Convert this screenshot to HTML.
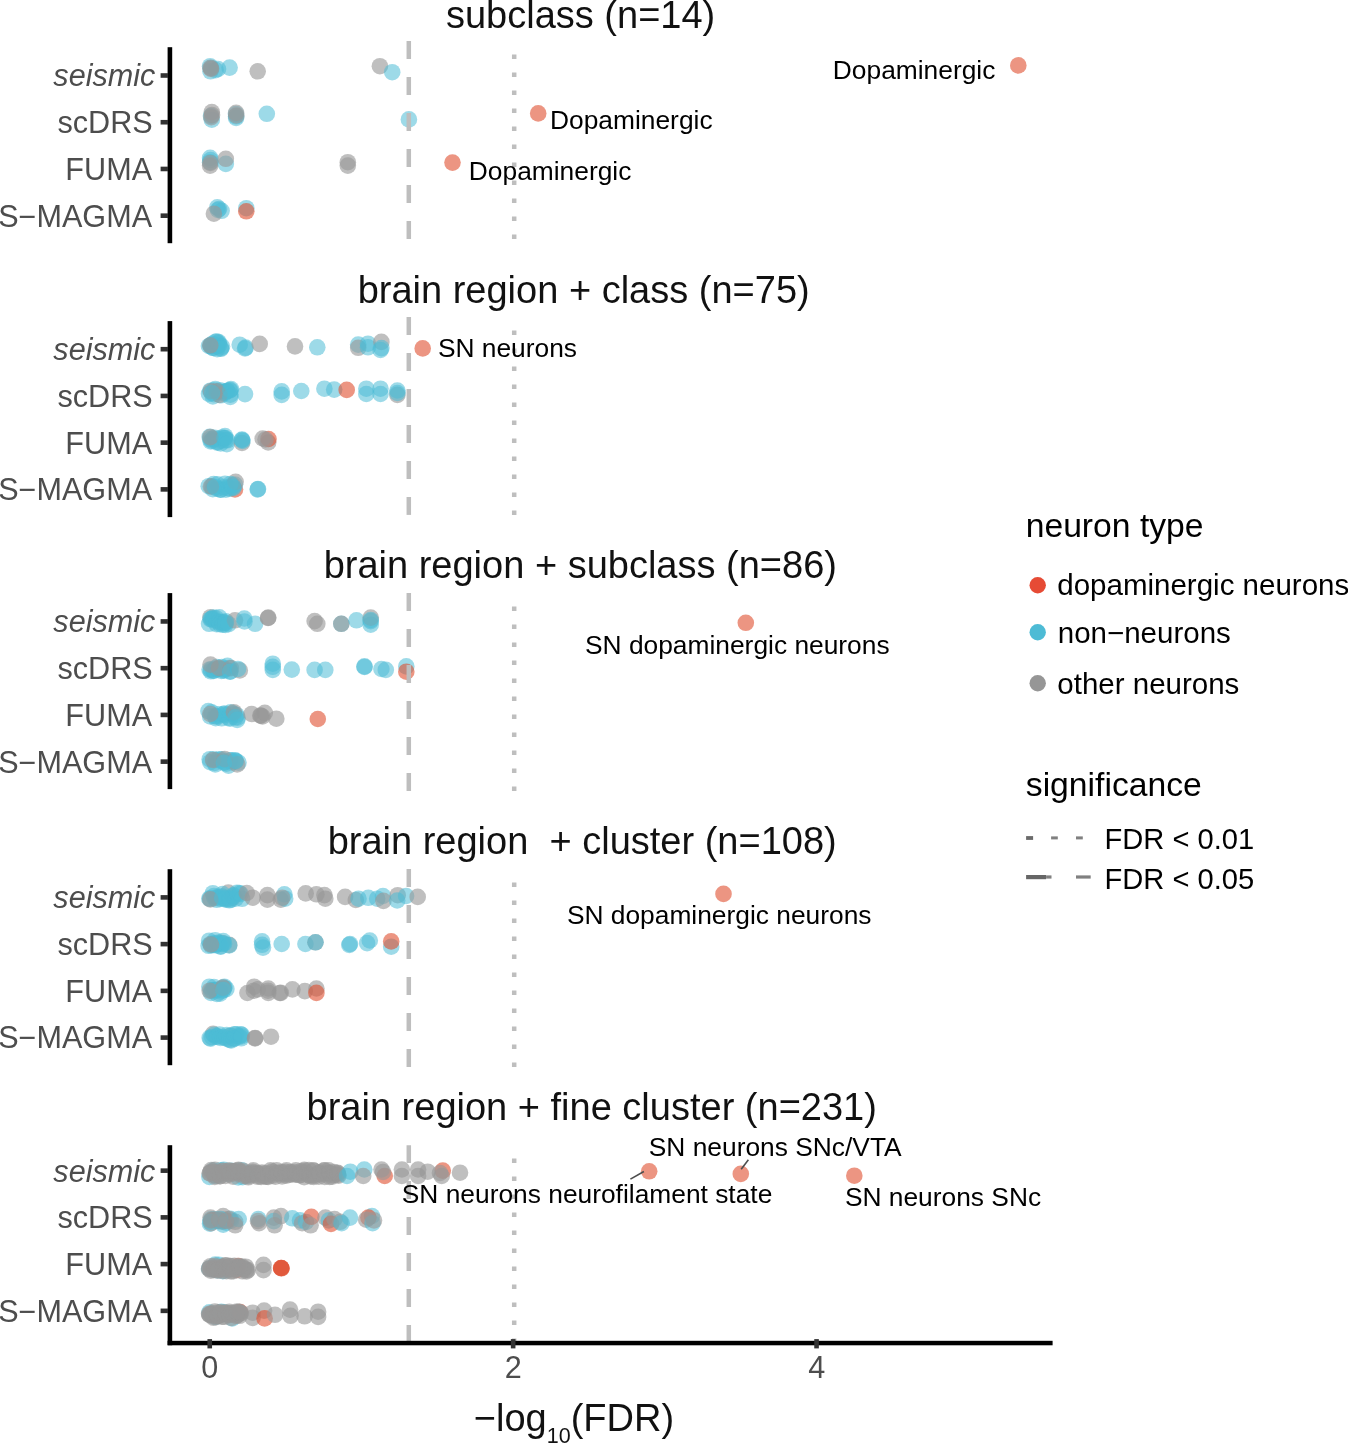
<!DOCTYPE html>
<html><head><meta charset="utf-8"><title>plot</title>
<style>html,body{margin:0;padding:0;background:#fff;}body{width:1348px;height:1444px;overflow:hidden;}svg{display:block;will-change:transform;}</style>
</head><body>
<svg width="1348" height="1444" viewBox="0 0 1348 1444"><rect x="0" y="0" width="1348" height="1444" fill="#ffffff"/><text x="445.94" y="27.80" style="font-family:'Liberation Sans',sans-serif;font-size:38px" fill="#111" xml:space="preserve">subclass (n=14)</text><text x="357.65" y="302.80" style="font-family:'Liberation Sans',sans-serif;font-size:38px" fill="#111" xml:space="preserve">brain region + class (n=75)</text><text x="323.65" y="577.80" style="font-family:'Liberation Sans',sans-serif;font-size:38px" fill="#111" xml:space="preserve">brain region + subclass (n=86)</text><text x="327.65" y="853.90" style="font-family:'Liberation Sans',sans-serif;font-size:38px" fill="#111" xml:space="preserve">brain region  + cluster (n=108)</text><text x="306.55" y="1119.75" style="font-family:'Liberation Sans',sans-serif;font-size:38px" fill="#111" xml:space="preserve">brain region + fine cluster (n=231)</text><rect x="167.6" y="47.20" width="4.6" height="196.00" fill="#000"/><rect x="160.6" y="73.20" width="7.4" height="4.6" fill="#333333"/><text x="53.34" y="86.40" style="font-family:'Liberation Sans',sans-serif;font-size:30.6px;font-style:italic" fill="#4D4D4D" xml:space="preserve">seismic</text><rect x="160.6" y="119.93" width="7.4" height="4.6" fill="#333333"/><text x="57.50" y="133.13" style="font-family:'Liberation Sans',sans-serif;font-size:30.6px" fill="#4D4D4D" xml:space="preserve">scDRS</text><rect x="160.6" y="166.66" width="7.4" height="4.6" fill="#333333"/><text x="65.37" y="179.86" style="font-family:'Liberation Sans',sans-serif;font-size:30.6px" fill="#4D4D4D" xml:space="preserve">FUMA</text><rect x="160.6" y="213.39" width="7.4" height="4.6" fill="#333333"/><text x="-1.82" y="226.59" style="font-family:'Liberation Sans',sans-serif;font-size:30.6px" fill="#4D4D4D" xml:space="preserve">S−MAGMA</text><rect x="167.6" y="321.10" width="4.6" height="196.00" fill="#000"/><rect x="160.6" y="346.90" width="7.4" height="4.6" fill="#333333"/><text x="53.34" y="360.10" style="font-family:'Liberation Sans',sans-serif;font-size:30.6px;font-style:italic" fill="#4D4D4D" xml:space="preserve">seismic</text><rect x="160.6" y="393.63" width="7.4" height="4.6" fill="#333333"/><text x="57.50" y="406.83" style="font-family:'Liberation Sans',sans-serif;font-size:30.6px" fill="#4D4D4D" xml:space="preserve">scDRS</text><rect x="160.6" y="440.36" width="7.4" height="4.6" fill="#333333"/><text x="65.37" y="453.56" style="font-family:'Liberation Sans',sans-serif;font-size:30.6px" fill="#4D4D4D" xml:space="preserve">FUMA</text><rect x="160.6" y="487.09" width="7.4" height="4.6" fill="#333333"/><text x="-1.82" y="500.29" style="font-family:'Liberation Sans',sans-serif;font-size:30.6px" fill="#4D4D4D" xml:space="preserve">S−MAGMA</text><rect x="167.6" y="593.10" width="4.6" height="196.00" fill="#000"/><rect x="160.6" y="619.15" width="7.4" height="4.6" fill="#333333"/><text x="53.34" y="632.35" style="font-family:'Liberation Sans',sans-serif;font-size:30.6px;font-style:italic" fill="#4D4D4D" xml:space="preserve">seismic</text><rect x="160.6" y="665.88" width="7.4" height="4.6" fill="#333333"/><text x="57.50" y="679.08" style="font-family:'Liberation Sans',sans-serif;font-size:30.6px" fill="#4D4D4D" xml:space="preserve">scDRS</text><rect x="160.6" y="712.61" width="7.4" height="4.6" fill="#333333"/><text x="65.37" y="725.81" style="font-family:'Liberation Sans',sans-serif;font-size:30.6px" fill="#4D4D4D" xml:space="preserve">FUMA</text><rect x="160.6" y="759.34" width="7.4" height="4.6" fill="#333333"/><text x="-1.82" y="772.54" style="font-family:'Liberation Sans',sans-serif;font-size:30.6px" fill="#4D4D4D" xml:space="preserve">S−MAGMA</text><rect x="167.6" y="869.20" width="4.6" height="196.00" fill="#000"/><rect x="160.6" y="895.10" width="7.4" height="4.6" fill="#333333"/><text x="53.34" y="908.30" style="font-family:'Liberation Sans',sans-serif;font-size:30.6px;font-style:italic" fill="#4D4D4D" xml:space="preserve">seismic</text><rect x="160.6" y="941.83" width="7.4" height="4.6" fill="#333333"/><text x="57.50" y="955.03" style="font-family:'Liberation Sans',sans-serif;font-size:30.6px" fill="#4D4D4D" xml:space="preserve">scDRS</text><rect x="160.6" y="988.56" width="7.4" height="4.6" fill="#333333"/><text x="65.37" y="1001.76" style="font-family:'Liberation Sans',sans-serif;font-size:30.6px" fill="#4D4D4D" xml:space="preserve">FUMA</text><rect x="160.6" y="1035.29" width="7.4" height="4.6" fill="#333333"/><text x="-1.82" y="1048.49" style="font-family:'Liberation Sans',sans-serif;font-size:30.6px" fill="#4D4D4D" xml:space="preserve">S−MAGMA</text><rect x="167.6" y="1145.20" width="4.6" height="200.00" fill="#000"/><rect x="160.6" y="1168.35" width="7.4" height="4.6" fill="#333333"/><text x="53.34" y="1181.55" style="font-family:'Liberation Sans',sans-serif;font-size:30.6px;font-style:italic" fill="#4D4D4D" xml:space="preserve">seismic</text><rect x="160.6" y="1215.08" width="7.4" height="4.6" fill="#333333"/><text x="57.50" y="1228.28" style="font-family:'Liberation Sans',sans-serif;font-size:30.6px" fill="#4D4D4D" xml:space="preserve">scDRS</text><rect x="160.6" y="1261.81" width="7.4" height="4.6" fill="#333333"/><text x="65.37" y="1275.01" style="font-family:'Liberation Sans',sans-serif;font-size:30.6px" fill="#4D4D4D" xml:space="preserve">FUMA</text><rect x="160.6" y="1308.54" width="7.4" height="4.6" fill="#333333"/><text x="-1.82" y="1321.74" style="font-family:'Liberation Sans',sans-serif;font-size:30.6px" fill="#4D4D4D" xml:space="preserve">S−MAGMA</text><circle cx="210.1" cy="66.2" r="8.3" fill="#4DBBD5" fill-opacity="0.55"/><circle cx="210.5" cy="71.3" r="8.3" fill="#4DBBD5" fill-opacity="0.55"/><circle cx="215.6" cy="70.1" r="8.3" fill="#4DBBD5" fill-opacity="0.55"/><circle cx="218.0" cy="69.0" r="8.3" fill="#4DBBD5" fill-opacity="0.55"/><circle cx="211.0" cy="68.0" r="8.3" fill="#4DBBD5" fill-opacity="0.55"/><circle cx="210.5" cy="67.9" r="8.3" fill="#989898" fill-opacity="0.62"/><circle cx="211.0" cy="69.0" r="8.3" fill="#989898" fill-opacity="0.62"/><circle cx="229.6" cy="67.6" r="8.3" fill="#4DBBD5" fill-opacity="0.55"/><circle cx="257.7" cy="71.3" r="8.3" fill="#989898" fill-opacity="0.62"/><circle cx="379.9" cy="66.2" r="8.3" fill="#989898" fill-opacity="0.62"/><circle cx="392.2" cy="72.2" r="8.3" fill="#4DBBD5" fill-opacity="0.55"/><circle cx="1018.3" cy="65.4" r="8.3" fill="#E04E2E" fill-opacity="0.6"/><circle cx="211.8" cy="119.7" r="8.3" fill="#4DBBD5" fill-opacity="0.55"/><circle cx="211.0" cy="116.0" r="8.3" fill="#4DBBD5" fill-opacity="0.55"/><circle cx="211.8" cy="112.1" r="8.3" fill="#989898" fill-opacity="0.62"/><circle cx="211.3" cy="117.2" r="8.3" fill="#989898" fill-opacity="0.62"/><circle cx="212.0" cy="115.0" r="8.3" fill="#989898" fill-opacity="0.62"/><circle cx="236.1" cy="116.3" r="8.3" fill="#4DBBD5" fill-opacity="0.55"/><circle cx="236.1" cy="118.0" r="8.3" fill="#4DBBD5" fill-opacity="0.55"/><circle cx="236.0" cy="114.0" r="8.3" fill="#4DBBD5" fill-opacity="0.55"/><circle cx="236.1" cy="112.9" r="8.3" fill="#989898" fill-opacity="0.62"/><circle cx="236.3" cy="115.5" r="8.3" fill="#989898" fill-opacity="0.62"/><circle cx="266.8" cy="113.8" r="8.3" fill="#4DBBD5" fill-opacity="0.55"/><circle cx="408.9" cy="119.4" r="8.3" fill="#4DBBD5" fill-opacity="0.55"/><circle cx="538.2" cy="113.4" r="8.3" fill="#E04E2E" fill-opacity="0.6"/><circle cx="210.1" cy="157.9" r="8.3" fill="#4DBBD5" fill-opacity="0.55"/><circle cx="210.1" cy="162.2" r="8.3" fill="#4DBBD5" fill-opacity="0.55"/><circle cx="210.5" cy="160.0" r="8.3" fill="#4DBBD5" fill-opacity="0.55"/><circle cx="210.1" cy="165.6" r="8.3" fill="#989898" fill-opacity="0.62"/><circle cx="210.3" cy="163.0" r="8.3" fill="#989898" fill-opacity="0.62"/><circle cx="225.8" cy="163.9" r="8.3" fill="#4DBBD5" fill-opacity="0.55"/><circle cx="225.8" cy="158.8" r="8.3" fill="#989898" fill-opacity="0.62"/><circle cx="347.8" cy="162.2" r="8.3" fill="#989898" fill-opacity="0.62"/><circle cx="347.8" cy="165.6" r="8.3" fill="#989898" fill-opacity="0.62"/><circle cx="452.5" cy="162.6" r="8.3" fill="#E04E2E" fill-opacity="0.6"/><circle cx="217.3" cy="207.4" r="8.3" fill="#4DBBD5" fill-opacity="0.55"/><circle cx="221.6" cy="210.8" r="8.3" fill="#4DBBD5" fill-opacity="0.55"/><circle cx="219.0" cy="209.0" r="8.3" fill="#4DBBD5" fill-opacity="0.55"/><circle cx="218.0" cy="210.0" r="8.3" fill="#4DBBD5" fill-opacity="0.55"/><circle cx="213.9" cy="213.7" r="8.3" fill="#989898" fill-opacity="0.62"/><circle cx="246.3" cy="208.2" r="8.3" fill="#4DBBD5" fill-opacity="0.55"/><circle cx="246.3" cy="211.3" r="8.3" fill="#E04E2E" fill-opacity="0.6"/><circle cx="208.9" cy="346.0" r="8.3" fill="#4DBBD5" fill-opacity="0.55"/><circle cx="210.9" cy="345.2" r="8.3" fill="#4DBBD5" fill-opacity="0.55"/><circle cx="210.8" cy="346.2" r="8.3" fill="#4DBBD5" fill-opacity="0.55"/><circle cx="210.8" cy="345.6" r="8.3" fill="#4DBBD5" fill-opacity="0.55"/><circle cx="212.8" cy="347.8" r="8.3" fill="#4DBBD5" fill-opacity="0.55"/><circle cx="212.4" cy="343.9" r="8.3" fill="#4DBBD5" fill-opacity="0.55"/><circle cx="213.2" cy="348.0" r="8.3" fill="#4DBBD5" fill-opacity="0.55"/><circle cx="215.5" cy="341.8" r="8.3" fill="#4DBBD5" fill-opacity="0.55"/><circle cx="217.1" cy="349.2" r="8.3" fill="#4DBBD5" fill-opacity="0.55"/><circle cx="217.2" cy="346.4" r="8.3" fill="#4DBBD5" fill-opacity="0.55"/><circle cx="216.8" cy="341.6" r="8.3" fill="#4DBBD5" fill-opacity="0.55"/><circle cx="218.6" cy="342.0" r="8.3" fill="#4DBBD5" fill-opacity="0.55"/><circle cx="218.7" cy="343.4" r="8.3" fill="#4DBBD5" fill-opacity="0.55"/><circle cx="219.1" cy="345.2" r="8.3" fill="#4DBBD5" fill-opacity="0.55"/><circle cx="221.0" cy="348.2" r="8.3" fill="#4DBBD5" fill-opacity="0.55"/><circle cx="222.0" cy="346.6" r="8.3" fill="#4DBBD5" fill-opacity="0.55"/><circle cx="220.9" cy="348.8" r="8.3" fill="#4DBBD5" fill-opacity="0.55"/><circle cx="210.3" cy="345.3" r="8.3" fill="#989898" fill-opacity="0.62"/><circle cx="239.7" cy="344.7" r="8.3" fill="#4DBBD5" fill-opacity="0.55"/><circle cx="245.6" cy="347.6" r="8.3" fill="#4DBBD5" fill-opacity="0.55"/><circle cx="245.0" cy="348.5" r="8.3" fill="#4DBBD5" fill-opacity="0.55"/><circle cx="259.7" cy="343.9" r="8.3" fill="#989898" fill-opacity="0.62"/><circle cx="295.0" cy="346.4" r="8.3" fill="#989898" fill-opacity="0.62"/><circle cx="317.3" cy="347.3" r="8.3" fill="#4DBBD5" fill-opacity="0.55"/><circle cx="358.2" cy="344.6" r="8.3" fill="#4DBBD5" fill-opacity="0.55"/><circle cx="358.2" cy="347.8" r="8.3" fill="#989898" fill-opacity="0.62"/><circle cx="368.0" cy="343.7" r="8.3" fill="#4DBBD5" fill-opacity="0.55"/><circle cx="368.0" cy="347.3" r="8.3" fill="#4DBBD5" fill-opacity="0.55"/><circle cx="381.4" cy="341.9" r="8.3" fill="#989898" fill-opacity="0.62"/><circle cx="381.4" cy="348.1" r="8.3" fill="#4DBBD5" fill-opacity="0.55"/><circle cx="380.5" cy="350.0" r="8.3" fill="#4DBBD5" fill-opacity="0.55"/><circle cx="422.7" cy="348.4" r="8.3" fill="#E04E2E" fill-opacity="0.6"/><circle cx="209.0" cy="393.8" r="8.3" fill="#4DBBD5" fill-opacity="0.55"/><circle cx="210.3" cy="390.7" r="8.3" fill="#4DBBD5" fill-opacity="0.55"/><circle cx="212.9" cy="396.5" r="8.3" fill="#4DBBD5" fill-opacity="0.55"/><circle cx="213.9" cy="394.2" r="8.3" fill="#4DBBD5" fill-opacity="0.55"/><circle cx="214.0" cy="390.3" r="8.3" fill="#4DBBD5" fill-opacity="0.55"/><circle cx="215.3" cy="389.1" r="8.3" fill="#4DBBD5" fill-opacity="0.55"/><circle cx="217.8" cy="391.7" r="8.3" fill="#4DBBD5" fill-opacity="0.55"/><circle cx="219.3" cy="391.6" r="8.3" fill="#4DBBD5" fill-opacity="0.55"/><circle cx="220.9" cy="395.3" r="8.3" fill="#4DBBD5" fill-opacity="0.55"/><circle cx="220.0" cy="390.2" r="8.3" fill="#4DBBD5" fill-opacity="0.55"/><circle cx="223.5" cy="392.3" r="8.3" fill="#4DBBD5" fill-opacity="0.55"/><circle cx="225.0" cy="391.7" r="8.3" fill="#4DBBD5" fill-opacity="0.55"/><circle cx="224.2" cy="393.5" r="8.3" fill="#4DBBD5" fill-opacity="0.55"/><circle cx="227.3" cy="390.7" r="8.3" fill="#4DBBD5" fill-opacity="0.55"/><circle cx="227.0" cy="391.2" r="8.3" fill="#4DBBD5" fill-opacity="0.55"/><circle cx="230.4" cy="394.6" r="8.3" fill="#4DBBD5" fill-opacity="0.55"/><circle cx="229.7" cy="390.5" r="8.3" fill="#4DBBD5" fill-opacity="0.55"/><circle cx="231.0" cy="389.0" r="8.3" fill="#4DBBD5" fill-opacity="0.55"/><circle cx="216.7" cy="391.4" r="8.3" fill="#989898" fill-opacity="0.62"/><circle cx="219.4" cy="394.9" r="8.3" fill="#989898" fill-opacity="0.62"/><circle cx="210.9" cy="391.2" r="8.3" fill="#989898" fill-opacity="0.62"/><circle cx="212.0" cy="393.0" r="8.3" fill="#4DBBD5" fill-opacity="0.55"/><circle cx="230.3" cy="390.0" r="8.3" fill="#4DBBD5" fill-opacity="0.55"/><circle cx="230.3" cy="397.0" r="8.3" fill="#4DBBD5" fill-opacity="0.55"/><circle cx="245.0" cy="394.1" r="8.3" fill="#4DBBD5" fill-opacity="0.55"/><circle cx="281.7" cy="391.4" r="8.3" fill="#4DBBD5" fill-opacity="0.55"/><circle cx="281.7" cy="394.9" r="8.3" fill="#4DBBD5" fill-opacity="0.55"/><circle cx="301.3" cy="391.0" r="8.3" fill="#4DBBD5" fill-opacity="0.55"/><circle cx="324.4" cy="388.7" r="8.3" fill="#4DBBD5" fill-opacity="0.55"/><circle cx="334.2" cy="389.6" r="8.3" fill="#4DBBD5" fill-opacity="0.55"/><circle cx="346.7" cy="389.9" r="8.3" fill="#E04E2E" fill-opacity="0.6"/><circle cx="366.3" cy="388.7" r="8.3" fill="#4DBBD5" fill-opacity="0.55"/><circle cx="366.3" cy="394.0" r="8.3" fill="#4DBBD5" fill-opacity="0.55"/><circle cx="380.5" cy="388.7" r="8.3" fill="#4DBBD5" fill-opacity="0.55"/><circle cx="380.5" cy="394.0" r="8.3" fill="#4DBBD5" fill-opacity="0.55"/><circle cx="397.4" cy="394.9" r="8.3" fill="#989898" fill-opacity="0.62"/><circle cx="397.4" cy="390.5" r="8.3" fill="#4DBBD5" fill-opacity="0.55"/><circle cx="397.4" cy="393.0" r="8.3" fill="#4DBBD5" fill-opacity="0.55"/><circle cx="209.7" cy="436.9" r="8.3" fill="#4DBBD5" fill-opacity="0.55"/><circle cx="210.4" cy="439.1" r="8.3" fill="#4DBBD5" fill-opacity="0.55"/><circle cx="210.8" cy="441.4" r="8.3" fill="#4DBBD5" fill-opacity="0.55"/><circle cx="211.9" cy="440.6" r="8.3" fill="#4DBBD5" fill-opacity="0.55"/><circle cx="213.1" cy="438.9" r="8.3" fill="#4DBBD5" fill-opacity="0.55"/><circle cx="214.6" cy="437.7" r="8.3" fill="#4DBBD5" fill-opacity="0.55"/><circle cx="217.7" cy="441.9" r="8.3" fill="#4DBBD5" fill-opacity="0.55"/><circle cx="217.4" cy="442.6" r="8.3" fill="#4DBBD5" fill-opacity="0.55"/><circle cx="218.4" cy="438.7" r="8.3" fill="#4DBBD5" fill-opacity="0.55"/><circle cx="221.3" cy="440.6" r="8.3" fill="#4DBBD5" fill-opacity="0.55"/><circle cx="220.7" cy="443.4" r="8.3" fill="#4DBBD5" fill-opacity="0.55"/><circle cx="222.2" cy="437.6" r="8.3" fill="#4DBBD5" fill-opacity="0.55"/><circle cx="224.9" cy="438.1" r="8.3" fill="#4DBBD5" fill-opacity="0.55"/><circle cx="225.0" cy="436.1" r="8.3" fill="#4DBBD5" fill-opacity="0.55"/><circle cx="225.7" cy="440.2" r="8.3" fill="#4DBBD5" fill-opacity="0.55"/><circle cx="227.4" cy="440.3" r="8.3" fill="#4DBBD5" fill-opacity="0.55"/><circle cx="210.3" cy="437.1" r="8.3" fill="#989898" fill-opacity="0.62"/><circle cx="224.4" cy="438.2" r="8.3" fill="#4DBBD5" fill-opacity="0.55"/><circle cx="226.8" cy="444.1" r="8.3" fill="#4DBBD5" fill-opacity="0.55"/><circle cx="242.0" cy="443.0" r="8.3" fill="#989898" fill-opacity="0.62"/><circle cx="242.0" cy="440.0" r="8.3" fill="#4DBBD5" fill-opacity="0.55"/><circle cx="242.0" cy="439.5" r="8.3" fill="#4DBBD5" fill-opacity="0.55"/><circle cx="242.5" cy="441.0" r="8.3" fill="#4DBBD5" fill-opacity="0.55"/><circle cx="268.2" cy="442.5" r="8.3" fill="#989898" fill-opacity="0.62"/><circle cx="268.5" cy="439.0" r="8.3" fill="#E04E2E" fill-opacity="0.6"/><circle cx="262.7" cy="438.5" r="8.3" fill="#989898" fill-opacity="0.62"/><circle cx="265.5" cy="439.5" r="8.3" fill="#989898" fill-opacity="0.62"/><circle cx="235.0" cy="489.5" r="8.3" fill="#E04E2E" fill-opacity="0.6"/><circle cx="208.7" cy="486.2" r="8.3" fill="#4DBBD5" fill-opacity="0.55"/><circle cx="211.9" cy="486.4" r="8.3" fill="#4DBBD5" fill-opacity="0.55"/><circle cx="212.8" cy="489.1" r="8.3" fill="#4DBBD5" fill-opacity="0.55"/><circle cx="213.6" cy="484.1" r="8.3" fill="#4DBBD5" fill-opacity="0.55"/><circle cx="217.2" cy="488.7" r="8.3" fill="#4DBBD5" fill-opacity="0.55"/><circle cx="217.4" cy="484.3" r="8.3" fill="#4DBBD5" fill-opacity="0.55"/><circle cx="220.4" cy="489.6" r="8.3" fill="#4DBBD5" fill-opacity="0.55"/><circle cx="220.9" cy="489.7" r="8.3" fill="#4DBBD5" fill-opacity="0.55"/><circle cx="224.3" cy="487.2" r="8.3" fill="#4DBBD5" fill-opacity="0.55"/><circle cx="225.0" cy="483.7" r="8.3" fill="#4DBBD5" fill-opacity="0.55"/><circle cx="225.9" cy="489.7" r="8.3" fill="#4DBBD5" fill-opacity="0.55"/><circle cx="228.2" cy="487.9" r="8.3" fill="#4DBBD5" fill-opacity="0.55"/><circle cx="230.0" cy="488.8" r="8.3" fill="#4DBBD5" fill-opacity="0.55"/><circle cx="232.6" cy="485.1" r="8.3" fill="#4DBBD5" fill-opacity="0.55"/><circle cx="233.4" cy="488.0" r="8.3" fill="#4DBBD5" fill-opacity="0.55"/><circle cx="235.0" cy="484.6" r="8.3" fill="#4DBBD5" fill-opacity="0.55"/><circle cx="235.6" cy="481.8" r="8.3" fill="#989898" fill-opacity="0.62"/><circle cx="230.3" cy="484.1" r="8.3" fill="#4DBBD5" fill-opacity="0.55"/><circle cx="233.0" cy="487.0" r="8.3" fill="#4DBBD5" fill-opacity="0.55"/><circle cx="210.9" cy="486.5" r="8.3" fill="#989898" fill-opacity="0.62"/><circle cx="215.0" cy="487.0" r="8.3" fill="#4DBBD5" fill-opacity="0.55"/><circle cx="257.7" cy="489.4" r="8.3" fill="#4DBBD5" fill-opacity="0.55"/><circle cx="258.0" cy="489.0" r="8.3" fill="#4DBBD5" fill-opacity="0.55"/><circle cx="210.5" cy="617.2" r="8.3" fill="#989898" fill-opacity="0.62"/><circle cx="209.1" cy="623.8" r="8.3" fill="#4DBBD5" fill-opacity="0.55"/><circle cx="210.4" cy="619.2" r="8.3" fill="#4DBBD5" fill-opacity="0.55"/><circle cx="212.2" cy="618.6" r="8.3" fill="#4DBBD5" fill-opacity="0.55"/><circle cx="211.2" cy="619.2" r="8.3" fill="#4DBBD5" fill-opacity="0.55"/><circle cx="213.3" cy="617.5" r="8.3" fill="#4DBBD5" fill-opacity="0.55"/><circle cx="213.8" cy="620.0" r="8.3" fill="#4DBBD5" fill-opacity="0.55"/><circle cx="215.9" cy="618.1" r="8.3" fill="#4DBBD5" fill-opacity="0.55"/><circle cx="216.5" cy="624.1" r="8.3" fill="#4DBBD5" fill-opacity="0.55"/><circle cx="219.1" cy="622.3" r="8.3" fill="#4DBBD5" fill-opacity="0.55"/><circle cx="219.5" cy="621.7" r="8.3" fill="#4DBBD5" fill-opacity="0.55"/><circle cx="219.3" cy="617.3" r="8.3" fill="#4DBBD5" fill-opacity="0.55"/><circle cx="220.1" cy="624.3" r="8.3" fill="#4DBBD5" fill-opacity="0.55"/><circle cx="222.9" cy="624.7" r="8.3" fill="#4DBBD5" fill-opacity="0.55"/><circle cx="222.4" cy="622.1" r="8.3" fill="#4DBBD5" fill-opacity="0.55"/><circle cx="224.6" cy="622.8" r="8.3" fill="#4DBBD5" fill-opacity="0.55"/><circle cx="225.3" cy="625.0" r="8.3" fill="#4DBBD5" fill-opacity="0.55"/><circle cx="225.9" cy="621.4" r="8.3" fill="#4DBBD5" fill-opacity="0.55"/><circle cx="228.6" cy="624.2" r="8.3" fill="#4DBBD5" fill-opacity="0.55"/><circle cx="235.0" cy="620.3" r="8.3" fill="#989898" fill-opacity="0.62"/><circle cx="225.6" cy="622.9" r="8.3" fill="#4DBBD5" fill-opacity="0.55"/><circle cx="244.5" cy="621.5" r="8.3" fill="#4DBBD5" fill-opacity="0.55"/><circle cx="244.3" cy="618.5" r="8.3" fill="#4DBBD5" fill-opacity="0.55"/><circle cx="255.1" cy="623.8" r="8.3" fill="#4DBBD5" fill-opacity="0.55"/><circle cx="268.0" cy="618.0" r="8.3" fill="#989898" fill-opacity="0.62"/><circle cx="268.3" cy="617.6" r="8.3" fill="#989898" fill-opacity="0.62"/><circle cx="314.6" cy="621.1" r="8.3" fill="#989898" fill-opacity="0.62"/><circle cx="317.3" cy="623.8" r="8.3" fill="#989898" fill-opacity="0.62"/><circle cx="341.3" cy="623.8" r="8.3" fill="#4DBBD5" fill-opacity="0.55"/><circle cx="341.3" cy="623.8" r="8.3" fill="#989898" fill-opacity="0.62"/><circle cx="356.5" cy="620.3" r="8.3" fill="#4DBBD5" fill-opacity="0.55"/><circle cx="370.7" cy="621.1" r="8.3" fill="#4DBBD5" fill-opacity="0.55"/><circle cx="370.7" cy="624.7" r="8.3" fill="#4DBBD5" fill-opacity="0.55"/><circle cx="370.7" cy="617.6" r="8.3" fill="#989898" fill-opacity="0.62"/><circle cx="370.7" cy="620.0" r="8.3" fill="#4DBBD5" fill-opacity="0.55"/><circle cx="745.8" cy="622.8" r="8.3" fill="#E04E2E" fill-opacity="0.6"/><circle cx="209.6" cy="669.6" r="8.3" fill="#4DBBD5" fill-opacity="0.55"/><circle cx="210.9" cy="671.3" r="8.3" fill="#4DBBD5" fill-opacity="0.55"/><circle cx="211.1" cy="669.5" r="8.3" fill="#4DBBD5" fill-opacity="0.55"/><circle cx="213.7" cy="671.0" r="8.3" fill="#4DBBD5" fill-opacity="0.55"/><circle cx="213.7" cy="670.3" r="8.3" fill="#4DBBD5" fill-opacity="0.55"/><circle cx="216.0" cy="668.6" r="8.3" fill="#4DBBD5" fill-opacity="0.55"/><circle cx="216.7" cy="667.1" r="8.3" fill="#4DBBD5" fill-opacity="0.55"/><circle cx="217.8" cy="668.9" r="8.3" fill="#4DBBD5" fill-opacity="0.55"/><circle cx="217.9" cy="669.1" r="8.3" fill="#4DBBD5" fill-opacity="0.55"/><circle cx="221.3" cy="671.0" r="8.3" fill="#4DBBD5" fill-opacity="0.55"/><circle cx="221.9" cy="667.1" r="8.3" fill="#4DBBD5" fill-opacity="0.55"/><circle cx="223.2" cy="668.6" r="8.3" fill="#4DBBD5" fill-opacity="0.55"/><circle cx="223.7" cy="670.7" r="8.3" fill="#4DBBD5" fill-opacity="0.55"/><circle cx="224.1" cy="670.0" r="8.3" fill="#4DBBD5" fill-opacity="0.55"/><circle cx="225.2" cy="668.8" r="8.3" fill="#4DBBD5" fill-opacity="0.55"/><circle cx="227.5" cy="665.8" r="8.3" fill="#4DBBD5" fill-opacity="0.55"/><circle cx="229.2" cy="668.0" r="8.3" fill="#4DBBD5" fill-opacity="0.55"/><circle cx="230.3" cy="671.4" r="8.3" fill="#4DBBD5" fill-opacity="0.55"/><circle cx="210.5" cy="664.6" r="8.3" fill="#989898" fill-opacity="0.62"/><circle cx="219.0" cy="668.0" r="8.3" fill="#989898" fill-opacity="0.62"/><circle cx="230.9" cy="668.1" r="8.3" fill="#989898" fill-opacity="0.62"/><circle cx="230.1" cy="671.7" r="8.3" fill="#4DBBD5" fill-opacity="0.55"/><circle cx="239.8" cy="670.4" r="8.3" fill="#989898" fill-opacity="0.62"/><circle cx="238.0" cy="669.0" r="8.3" fill="#4DBBD5" fill-opacity="0.55"/><circle cx="272.8" cy="663.7" r="8.3" fill="#4DBBD5" fill-opacity="0.55"/><circle cx="272.8" cy="669.9" r="8.3" fill="#4DBBD5" fill-opacity="0.55"/><circle cx="272.7" cy="666.8" r="8.3" fill="#4DBBD5" fill-opacity="0.55"/><circle cx="291.8" cy="669.6" r="8.3" fill="#4DBBD5" fill-opacity="0.55"/><circle cx="314.6" cy="669.9" r="8.3" fill="#4DBBD5" fill-opacity="0.55"/><circle cx="325.3" cy="669.9" r="8.3" fill="#4DBBD5" fill-opacity="0.55"/><circle cx="364.5" cy="666.4" r="8.3" fill="#4DBBD5" fill-opacity="0.55"/><circle cx="364.5" cy="667.0" r="8.3" fill="#4DBBD5" fill-opacity="0.55"/><circle cx="381.4" cy="669.0" r="8.3" fill="#4DBBD5" fill-opacity="0.55"/><circle cx="385.8" cy="669.9" r="8.3" fill="#4DBBD5" fill-opacity="0.55"/><circle cx="406.3" cy="666.4" r="8.3" fill="#4DBBD5" fill-opacity="0.55"/><circle cx="406.3" cy="671.7" r="8.3" fill="#E04E2E" fill-opacity="0.6"/><circle cx="208.4" cy="711.1" r="8.3" fill="#4DBBD5" fill-opacity="0.55"/><circle cx="210.2" cy="716.4" r="8.3" fill="#4DBBD5" fill-opacity="0.55"/><circle cx="211.7" cy="712.4" r="8.3" fill="#4DBBD5" fill-opacity="0.55"/><circle cx="215.1" cy="716.3" r="8.3" fill="#4DBBD5" fill-opacity="0.55"/><circle cx="215.7" cy="718.1" r="8.3" fill="#4DBBD5" fill-opacity="0.55"/><circle cx="217.1" cy="716.3" r="8.3" fill="#4DBBD5" fill-opacity="0.55"/><circle cx="218.5" cy="714.4" r="8.3" fill="#4DBBD5" fill-opacity="0.55"/><circle cx="221.7" cy="718.3" r="8.3" fill="#4DBBD5" fill-opacity="0.55"/><circle cx="223.6" cy="714.1" r="8.3" fill="#4DBBD5" fill-opacity="0.55"/><circle cx="224.6" cy="713.5" r="8.3" fill="#4DBBD5" fill-opacity="0.55"/><circle cx="225.2" cy="715.0" r="8.3" fill="#4DBBD5" fill-opacity="0.55"/><circle cx="228.6" cy="717.8" r="8.3" fill="#4DBBD5" fill-opacity="0.55"/><circle cx="230.0" cy="718.6" r="8.3" fill="#4DBBD5" fill-opacity="0.55"/><circle cx="230.6" cy="712.4" r="8.3" fill="#4DBBD5" fill-opacity="0.55"/><circle cx="232.8" cy="713.2" r="8.3" fill="#4DBBD5" fill-opacity="0.55"/><circle cx="233.9" cy="714.3" r="8.3" fill="#4DBBD5" fill-opacity="0.55"/><circle cx="236.6" cy="715.0" r="8.3" fill="#4DBBD5" fill-opacity="0.55"/><circle cx="237.6" cy="717.7" r="8.3" fill="#4DBBD5" fill-opacity="0.55"/><circle cx="210.3" cy="714.0" r="8.3" fill="#989898" fill-opacity="0.62"/><circle cx="233.9" cy="712.2" r="8.3" fill="#989898" fill-opacity="0.62"/><circle cx="235.4" cy="717.3" r="8.3" fill="#4DBBD5" fill-opacity="0.55"/><circle cx="237.2" cy="719.9" r="8.3" fill="#4DBBD5" fill-opacity="0.55"/><circle cx="251.5" cy="714.0" r="8.3" fill="#989898" fill-opacity="0.62"/><circle cx="261.0" cy="715.7" r="8.3" fill="#989898" fill-opacity="0.62"/><circle cx="260.3" cy="715.5" r="8.3" fill="#989898" fill-opacity="0.62"/><circle cx="262.5" cy="716.5" r="8.3" fill="#989898" fill-opacity="0.62"/><circle cx="264.8" cy="712.8" r="8.3" fill="#989898" fill-opacity="0.62"/><circle cx="276.3" cy="718.7" r="8.3" fill="#989898" fill-opacity="0.62"/><circle cx="317.8" cy="719.0" r="8.3" fill="#E04E2E" fill-opacity="0.6"/><circle cx="210.2" cy="762.2" r="8.3" fill="#4DBBD5" fill-opacity="0.55"/><circle cx="209.7" cy="759.2" r="8.3" fill="#4DBBD5" fill-opacity="0.55"/><circle cx="213.3" cy="759.3" r="8.3" fill="#4DBBD5" fill-opacity="0.55"/><circle cx="214.6" cy="763.0" r="8.3" fill="#4DBBD5" fill-opacity="0.55"/><circle cx="215.4" cy="764.5" r="8.3" fill="#4DBBD5" fill-opacity="0.55"/><circle cx="216.4" cy="760.0" r="8.3" fill="#4DBBD5" fill-opacity="0.55"/><circle cx="219.1" cy="759.2" r="8.3" fill="#4DBBD5" fill-opacity="0.55"/><circle cx="221.7" cy="760.7" r="8.3" fill="#4DBBD5" fill-opacity="0.55"/><circle cx="221.8" cy="759.3" r="8.3" fill="#4DBBD5" fill-opacity="0.55"/><circle cx="224.7" cy="762.1" r="8.3" fill="#4DBBD5" fill-opacity="0.55"/><circle cx="226.4" cy="763.6" r="8.3" fill="#4DBBD5" fill-opacity="0.55"/><circle cx="228.5" cy="765.7" r="8.3" fill="#4DBBD5" fill-opacity="0.55"/><circle cx="229.9" cy="760.4" r="8.3" fill="#4DBBD5" fill-opacity="0.55"/><circle cx="231.1" cy="760.3" r="8.3" fill="#4DBBD5" fill-opacity="0.55"/><circle cx="231.7" cy="762.3" r="8.3" fill="#4DBBD5" fill-opacity="0.55"/><circle cx="235.1" cy="760.3" r="8.3" fill="#4DBBD5" fill-opacity="0.55"/><circle cx="235.7" cy="761.4" r="8.3" fill="#4DBBD5" fill-opacity="0.55"/><circle cx="238.5" cy="762.6" r="8.3" fill="#4DBBD5" fill-opacity="0.55"/><circle cx="213.1" cy="760.0" r="8.3" fill="#989898" fill-opacity="0.62"/><circle cx="224.7" cy="759.1" r="8.3" fill="#989898" fill-opacity="0.62"/><circle cx="237.2" cy="764.4" r="8.3" fill="#989898" fill-opacity="0.62"/><circle cx="223.8" cy="762.7" r="8.3" fill="#4DBBD5" fill-opacity="0.55"/><circle cx="235.4" cy="760.9" r="8.3" fill="#4DBBD5" fill-opacity="0.55"/><circle cx="228.3" cy="892.5" r="8.3" fill="#989898" fill-opacity="0.62"/><circle cx="232.7" cy="897.7" r="8.3" fill="#989898" fill-opacity="0.62"/><circle cx="209.3" cy="898.5" r="8.3" fill="#4DBBD5" fill-opacity="0.55"/><circle cx="210.2" cy="898.8" r="8.3" fill="#4DBBD5" fill-opacity="0.55"/><circle cx="212.9" cy="893.2" r="8.3" fill="#4DBBD5" fill-opacity="0.55"/><circle cx="214.5" cy="898.3" r="8.3" fill="#4DBBD5" fill-opacity="0.55"/><circle cx="214.0" cy="896.1" r="8.3" fill="#4DBBD5" fill-opacity="0.55"/><circle cx="216.7" cy="899.8" r="8.3" fill="#4DBBD5" fill-opacity="0.55"/><circle cx="217.6" cy="897.1" r="8.3" fill="#4DBBD5" fill-opacity="0.55"/><circle cx="220.2" cy="898.9" r="8.3" fill="#4DBBD5" fill-opacity="0.55"/><circle cx="221.9" cy="896.2" r="8.3" fill="#4DBBD5" fill-opacity="0.55"/><circle cx="222.6" cy="894.1" r="8.3" fill="#4DBBD5" fill-opacity="0.55"/><circle cx="224.3" cy="899.0" r="8.3" fill="#4DBBD5" fill-opacity="0.55"/><circle cx="225.6" cy="898.2" r="8.3" fill="#4DBBD5" fill-opacity="0.55"/><circle cx="226.0" cy="899.7" r="8.3" fill="#4DBBD5" fill-opacity="0.55"/><circle cx="229.3" cy="900.3" r="8.3" fill="#4DBBD5" fill-opacity="0.55"/><circle cx="229.8" cy="898.8" r="8.3" fill="#4DBBD5" fill-opacity="0.55"/><circle cx="230.7" cy="899.8" r="8.3" fill="#4DBBD5" fill-opacity="0.55"/><circle cx="233.5" cy="895.3" r="8.3" fill="#4DBBD5" fill-opacity="0.55"/><circle cx="233.1" cy="896.0" r="8.3" fill="#4DBBD5" fill-opacity="0.55"/><circle cx="235.7" cy="898.6" r="8.3" fill="#4DBBD5" fill-opacity="0.55"/><circle cx="237.0" cy="892.7" r="8.3" fill="#4DBBD5" fill-opacity="0.55"/><circle cx="239.3" cy="893.0" r="8.3" fill="#4DBBD5" fill-opacity="0.55"/><circle cx="240.7" cy="893.9" r="8.3" fill="#4DBBD5" fill-opacity="0.55"/><circle cx="210.3" cy="899.4" r="8.3" fill="#989898" fill-opacity="0.62"/><circle cx="222.1" cy="897.7" r="8.3" fill="#4DBBD5" fill-opacity="0.55"/><circle cx="242.1" cy="898.8" r="8.3" fill="#4DBBD5" fill-opacity="0.55"/><circle cx="246.8" cy="893.0" r="8.3" fill="#989898" fill-opacity="0.62"/><circle cx="252.7" cy="897.7" r="8.3" fill="#989898" fill-opacity="0.62"/><circle cx="267.4" cy="895.1" r="8.3" fill="#989898" fill-opacity="0.62"/><circle cx="267.4" cy="899.6" r="8.3" fill="#989898" fill-opacity="0.62"/><circle cx="280.8" cy="899.6" r="8.3" fill="#989898" fill-opacity="0.62"/><circle cx="284.4" cy="894.3" r="8.3" fill="#4DBBD5" fill-opacity="0.55"/><circle cx="285.2" cy="898.7" r="8.3" fill="#4DBBD5" fill-opacity="0.55"/><circle cx="282.2" cy="897.7" r="8.3" fill="#989898" fill-opacity="0.62"/><circle cx="305.7" cy="893.4" r="8.3" fill="#989898" fill-opacity="0.62"/><circle cx="316.4" cy="894.3" r="8.3" fill="#989898" fill-opacity="0.62"/><circle cx="324.4" cy="895.1" r="8.3" fill="#989898" fill-opacity="0.62"/><circle cx="325.3" cy="898.7" r="8.3" fill="#989898" fill-opacity="0.62"/><circle cx="345.1" cy="896.9" r="8.3" fill="#989898" fill-opacity="0.62"/><circle cx="355.8" cy="900.0" r="8.3" fill="#989898" fill-opacity="0.62"/><circle cx="358.5" cy="898.7" r="8.3" fill="#4DBBD5" fill-opacity="0.55"/><circle cx="368.3" cy="897.8" r="8.3" fill="#4DBBD5" fill-opacity="0.55"/><circle cx="377.2" cy="898.7" r="8.3" fill="#4DBBD5" fill-opacity="0.55"/><circle cx="383.0" cy="896.0" r="8.3" fill="#4DBBD5" fill-opacity="0.55"/><circle cx="383.4" cy="900.9" r="8.3" fill="#989898" fill-opacity="0.62"/><circle cx="397.7" cy="895.2" r="8.3" fill="#989898" fill-opacity="0.62"/><circle cx="397.2" cy="900.5" r="8.3" fill="#4DBBD5" fill-opacity="0.55"/><circle cx="406.1" cy="896.0" r="8.3" fill="#4DBBD5" fill-opacity="0.55"/><circle cx="417.7" cy="896.9" r="8.3" fill="#989898" fill-opacity="0.62"/><circle cx="723.5" cy="893.9" r="8.3" fill="#E04E2E" fill-opacity="0.6"/><circle cx="210.5" cy="944.0" r="8.3" fill="#989898" fill-opacity="0.62"/><circle cx="222.0" cy="943.1" r="8.3" fill="#989898" fill-opacity="0.62"/><circle cx="229.2" cy="944.9" r="8.3" fill="#989898" fill-opacity="0.62"/><circle cx="208.6" cy="945.8" r="8.3" fill="#4DBBD5" fill-opacity="0.55"/><circle cx="209.1" cy="940.7" r="8.3" fill="#4DBBD5" fill-opacity="0.55"/><circle cx="211.0" cy="945.3" r="8.3" fill="#4DBBD5" fill-opacity="0.55"/><circle cx="212.8" cy="945.0" r="8.3" fill="#4DBBD5" fill-opacity="0.55"/><circle cx="214.1" cy="943.4" r="8.3" fill="#4DBBD5" fill-opacity="0.55"/><circle cx="215.1" cy="940.2" r="8.3" fill="#4DBBD5" fill-opacity="0.55"/><circle cx="214.3" cy="943.7" r="8.3" fill="#4DBBD5" fill-opacity="0.55"/><circle cx="215.5" cy="945.3" r="8.3" fill="#4DBBD5" fill-opacity="0.55"/><circle cx="217.3" cy="943.7" r="8.3" fill="#4DBBD5" fill-opacity="0.55"/><circle cx="218.8" cy="944.0" r="8.3" fill="#4DBBD5" fill-opacity="0.55"/><circle cx="218.5" cy="942.5" r="8.3" fill="#4DBBD5" fill-opacity="0.55"/><circle cx="220.8" cy="946.7" r="8.3" fill="#4DBBD5" fill-opacity="0.55"/><circle cx="220.3" cy="946.3" r="8.3" fill="#4DBBD5" fill-opacity="0.55"/><circle cx="223.1" cy="943.7" r="8.3" fill="#4DBBD5" fill-opacity="0.55"/><circle cx="223.2" cy="941.1" r="8.3" fill="#4DBBD5" fill-opacity="0.55"/><circle cx="224.1" cy="943.5" r="8.3" fill="#4DBBD5" fill-opacity="0.55"/><circle cx="211.0" cy="944.5" r="8.3" fill="#989898" fill-opacity="0.62"/><circle cx="229.2" cy="945.4" r="8.3" fill="#4DBBD5" fill-opacity="0.55"/><circle cx="262.1" cy="941.4" r="8.3" fill="#4DBBD5" fill-opacity="0.55"/><circle cx="263.0" cy="947.6" r="8.3" fill="#4DBBD5" fill-opacity="0.55"/><circle cx="262.1" cy="944.8" r="8.3" fill="#4DBBD5" fill-opacity="0.55"/><circle cx="281.7" cy="944.0" r="8.3" fill="#4DBBD5" fill-opacity="0.55"/><circle cx="305.4" cy="944.0" r="8.3" fill="#4DBBD5" fill-opacity="0.55"/><circle cx="315.5" cy="942.3" r="8.3" fill="#989898" fill-opacity="0.62"/><circle cx="315.5" cy="942.3" r="8.3" fill="#4DBBD5" fill-opacity="0.55"/><circle cx="349.3" cy="944.9" r="8.3" fill="#4DBBD5" fill-opacity="0.55"/><circle cx="350.0" cy="944.0" r="8.3" fill="#4DBBD5" fill-opacity="0.55"/><circle cx="367.1" cy="943.1" r="8.3" fill="#4DBBD5" fill-opacity="0.55"/><circle cx="369.8" cy="940.5" r="8.3" fill="#4DBBD5" fill-opacity="0.55"/><circle cx="391.2" cy="946.7" r="8.3" fill="#4DBBD5" fill-opacity="0.55"/><circle cx="391.2" cy="941.4" r="8.3" fill="#E04E2E" fill-opacity="0.6"/><circle cx="209.3" cy="986.7" r="8.3" fill="#4DBBD5" fill-opacity="0.55"/><circle cx="211.3" cy="990.6" r="8.3" fill="#4DBBD5" fill-opacity="0.55"/><circle cx="211.0" cy="992.9" r="8.3" fill="#4DBBD5" fill-opacity="0.55"/><circle cx="212.6" cy="990.4" r="8.3" fill="#4DBBD5" fill-opacity="0.55"/><circle cx="214.0" cy="987.0" r="8.3" fill="#4DBBD5" fill-opacity="0.55"/><circle cx="214.8" cy="989.8" r="8.3" fill="#4DBBD5" fill-opacity="0.55"/><circle cx="216.9" cy="993.9" r="8.3" fill="#4DBBD5" fill-opacity="0.55"/><circle cx="216.4" cy="990.3" r="8.3" fill="#4DBBD5" fill-opacity="0.55"/><circle cx="217.2" cy="990.0" r="8.3" fill="#4DBBD5" fill-opacity="0.55"/><circle cx="220.0" cy="993.7" r="8.3" fill="#4DBBD5" fill-opacity="0.55"/><circle cx="220.3" cy="989.0" r="8.3" fill="#4DBBD5" fill-opacity="0.55"/><circle cx="220.7" cy="991.4" r="8.3" fill="#4DBBD5" fill-opacity="0.55"/><circle cx="223.6" cy="987.5" r="8.3" fill="#4DBBD5" fill-opacity="0.55"/><circle cx="224.4" cy="986.7" r="8.3" fill="#4DBBD5" fill-opacity="0.55"/><circle cx="224.1" cy="988.3" r="8.3" fill="#4DBBD5" fill-opacity="0.55"/><circle cx="226.4" cy="989.1" r="8.3" fill="#4DBBD5" fill-opacity="0.55"/><circle cx="209.7" cy="990.7" r="8.3" fill="#989898" fill-opacity="0.62"/><circle cx="222.9" cy="987.6" r="8.3" fill="#989898" fill-opacity="0.62"/><circle cx="223.3" cy="990.1" r="8.3" fill="#4DBBD5" fill-opacity="0.55"/><circle cx="247.4" cy="993.0" r="8.3" fill="#989898" fill-opacity="0.62"/><circle cx="253.9" cy="990.7" r="8.3" fill="#989898" fill-opacity="0.62"/><circle cx="254.1" cy="986.7" r="8.3" fill="#989898" fill-opacity="0.62"/><circle cx="257.7" cy="989.4" r="8.3" fill="#989898" fill-opacity="0.62"/><circle cx="268.0" cy="990.7" r="8.3" fill="#989898" fill-opacity="0.62"/><circle cx="268.3" cy="988.5" r="8.3" fill="#989898" fill-opacity="0.62"/><circle cx="268.3" cy="992.9" r="8.3" fill="#989898" fill-opacity="0.62"/><circle cx="279.8" cy="993.0" r="8.3" fill="#989898" fill-opacity="0.62"/><circle cx="280.8" cy="992.9" r="8.3" fill="#989898" fill-opacity="0.62"/><circle cx="292.4" cy="989.4" r="8.3" fill="#989898" fill-opacity="0.62"/><circle cx="304.8" cy="991.1" r="8.3" fill="#989898" fill-opacity="0.62"/><circle cx="316.4" cy="988.5" r="8.3" fill="#989898" fill-opacity="0.62"/><circle cx="316.4" cy="992.9" r="8.3" fill="#E04E2E" fill-opacity="0.6"/><circle cx="213.1" cy="1033.9" r="8.3" fill="#989898" fill-opacity="0.62"/><circle cx="230.9" cy="1035.7" r="8.3" fill="#989898" fill-opacity="0.62"/><circle cx="209.7" cy="1037.8" r="8.3" fill="#4DBBD5" fill-opacity="0.55"/><circle cx="210.6" cy="1038.6" r="8.3" fill="#4DBBD5" fill-opacity="0.55"/><circle cx="212.2" cy="1037.1" r="8.3" fill="#4DBBD5" fill-opacity="0.55"/><circle cx="214.1" cy="1034.9" r="8.3" fill="#4DBBD5" fill-opacity="0.55"/><circle cx="216.4" cy="1036.6" r="8.3" fill="#4DBBD5" fill-opacity="0.55"/><circle cx="217.6" cy="1036.4" r="8.3" fill="#4DBBD5" fill-opacity="0.55"/><circle cx="219.5" cy="1034.6" r="8.3" fill="#4DBBD5" fill-opacity="0.55"/><circle cx="220.3" cy="1037.9" r="8.3" fill="#4DBBD5" fill-opacity="0.55"/><circle cx="222.9" cy="1037.2" r="8.3" fill="#4DBBD5" fill-opacity="0.55"/><circle cx="225.0" cy="1037.8" r="8.3" fill="#4DBBD5" fill-opacity="0.55"/><circle cx="226.6" cy="1035.1" r="8.3" fill="#4DBBD5" fill-opacity="0.55"/><circle cx="227.9" cy="1039.2" r="8.3" fill="#4DBBD5" fill-opacity="0.55"/><circle cx="229.8" cy="1035.7" r="8.3" fill="#4DBBD5" fill-opacity="0.55"/><circle cx="230.0" cy="1040.0" r="8.3" fill="#4DBBD5" fill-opacity="0.55"/><circle cx="231.3" cy="1040.5" r="8.3" fill="#4DBBD5" fill-opacity="0.55"/><circle cx="234.5" cy="1034.4" r="8.3" fill="#4DBBD5" fill-opacity="0.55"/><circle cx="234.5" cy="1038.6" r="8.3" fill="#4DBBD5" fill-opacity="0.55"/><circle cx="236.1" cy="1034.2" r="8.3" fill="#4DBBD5" fill-opacity="0.55"/><circle cx="239.1" cy="1036.5" r="8.3" fill="#4DBBD5" fill-opacity="0.55"/><circle cx="240.6" cy="1034.4" r="8.3" fill="#4DBBD5" fill-opacity="0.55"/><circle cx="241.2" cy="1038.3" r="8.3" fill="#4DBBD5" fill-opacity="0.55"/><circle cx="241.8" cy="1034.9" r="8.3" fill="#4DBBD5" fill-opacity="0.55"/><circle cx="233.6" cy="1038.3" r="8.3" fill="#4DBBD5" fill-opacity="0.55"/><circle cx="241.6" cy="1036.5" r="8.3" fill="#4DBBD5" fill-opacity="0.55"/><circle cx="255.0" cy="1038.4" r="8.3" fill="#989898" fill-opacity="0.62"/><circle cx="255.1" cy="1038.0" r="8.3" fill="#989898" fill-opacity="0.62"/><circle cx="271.0" cy="1036.7" r="8.3" fill="#989898" fill-opacity="0.62"/><circle cx="209.4" cy="1176.9" r="8.3" fill="#4DBBD5" fill-opacity="0.55"/><circle cx="213.3" cy="1170.5" r="8.3" fill="#4DBBD5" fill-opacity="0.55"/><circle cx="215.3" cy="1175.7" r="8.3" fill="#4DBBD5" fill-opacity="0.55"/><circle cx="218.5" cy="1175.1" r="8.3" fill="#4DBBD5" fill-opacity="0.55"/><circle cx="220.9" cy="1170.2" r="8.3" fill="#4DBBD5" fill-opacity="0.55"/><circle cx="223.8" cy="1169.9" r="8.3" fill="#4DBBD5" fill-opacity="0.55"/><circle cx="228.0" cy="1173.7" r="8.3" fill="#4DBBD5" fill-opacity="0.55"/><circle cx="231.2" cy="1170.8" r="8.3" fill="#4DBBD5" fill-opacity="0.55"/><circle cx="233.5" cy="1171.2" r="8.3" fill="#4DBBD5" fill-opacity="0.55"/><circle cx="238.2" cy="1177.5" r="8.3" fill="#4DBBD5" fill-opacity="0.55"/><circle cx="241.6" cy="1170.4" r="8.3" fill="#4DBBD5" fill-opacity="0.55"/><circle cx="242.6" cy="1177.2" r="8.3" fill="#4DBBD5" fill-opacity="0.55"/><circle cx="246.8" cy="1175.7" r="8.3" fill="#4DBBD5" fill-opacity="0.55"/><circle cx="249.6" cy="1173.3" r="8.3" fill="#4DBBD5" fill-opacity="0.55"/><circle cx="210.0" cy="1173.1" r="8.3" fill="#989898" fill-opacity="0.62"/><circle cx="215.0" cy="1169.9" r="8.3" fill="#989898" fill-opacity="0.62"/><circle cx="220.0" cy="1176.2" r="8.3" fill="#989898" fill-opacity="0.62"/><circle cx="223.5" cy="1173.3" r="8.3" fill="#989898" fill-opacity="0.62"/><circle cx="229.5" cy="1172.9" r="8.3" fill="#989898" fill-opacity="0.62"/><circle cx="233.0" cy="1171.1" r="8.3" fill="#989898" fill-opacity="0.62"/><circle cx="238.5" cy="1169.9" r="8.3" fill="#989898" fill-opacity="0.62"/><circle cx="244.1" cy="1175.9" r="8.3" fill="#989898" fill-opacity="0.62"/><circle cx="248.4" cy="1176.3" r="8.3" fill="#989898" fill-opacity="0.62"/><circle cx="253.0" cy="1172.9" r="8.3" fill="#989898" fill-opacity="0.62"/><circle cx="257.6" cy="1173.6" r="8.3" fill="#989898" fill-opacity="0.62"/><circle cx="263.3" cy="1175.9" r="8.3" fill="#989898" fill-opacity="0.62"/><circle cx="266.3" cy="1176.7" r="8.3" fill="#989898" fill-opacity="0.62"/><circle cx="272.2" cy="1175.7" r="8.3" fill="#989898" fill-opacity="0.62"/><circle cx="277.1" cy="1172.9" r="8.3" fill="#989898" fill-opacity="0.62"/><circle cx="282.1" cy="1176.5" r="8.3" fill="#989898" fill-opacity="0.62"/><circle cx="286.3" cy="1175.6" r="8.3" fill="#989898" fill-opacity="0.62"/><circle cx="291.2" cy="1172.9" r="8.3" fill="#989898" fill-opacity="0.62"/><circle cx="295.9" cy="1170.3" r="8.3" fill="#989898" fill-opacity="0.62"/><circle cx="299.7" cy="1173.4" r="8.3" fill="#989898" fill-opacity="0.62"/><circle cx="303.6" cy="1172.5" r="8.3" fill="#989898" fill-opacity="0.62"/><circle cx="309.9" cy="1174.5" r="8.3" fill="#989898" fill-opacity="0.62"/><circle cx="313.7" cy="1177.0" r="8.3" fill="#989898" fill-opacity="0.62"/><circle cx="319.4" cy="1172.4" r="8.3" fill="#989898" fill-opacity="0.62"/><circle cx="324.2" cy="1174.1" r="8.3" fill="#989898" fill-opacity="0.62"/><circle cx="328.6" cy="1172.8" r="8.3" fill="#989898" fill-opacity="0.62"/><circle cx="334.5" cy="1174.7" r="8.3" fill="#989898" fill-opacity="0.62"/><circle cx="338.5" cy="1175.6" r="8.3" fill="#989898" fill-opacity="0.62"/><circle cx="211.2" cy="1170.0" r="8.3" fill="#989898" fill-opacity="0.62"/><circle cx="215.0" cy="1175.4" r="8.3" fill="#989898" fill-opacity="0.62"/><circle cx="218.9" cy="1172.9" r="8.3" fill="#989898" fill-opacity="0.62"/><circle cx="223.1" cy="1171.3" r="8.3" fill="#989898" fill-opacity="0.62"/><circle cx="228.7" cy="1170.5" r="8.3" fill="#989898" fill-opacity="0.62"/><circle cx="233.1" cy="1176.7" r="8.3" fill="#989898" fill-opacity="0.62"/><circle cx="238.6" cy="1173.7" r="8.3" fill="#989898" fill-opacity="0.62"/><circle cx="244.3" cy="1174.1" r="8.3" fill="#989898" fill-opacity="0.62"/><circle cx="249.1" cy="1174.6" r="8.3" fill="#989898" fill-opacity="0.62"/><circle cx="253.4" cy="1170.4" r="8.3" fill="#989898" fill-opacity="0.62"/><circle cx="257.6" cy="1175.6" r="8.3" fill="#989898" fill-opacity="0.62"/><circle cx="261.1" cy="1176.9" r="8.3" fill="#989898" fill-opacity="0.62"/><circle cx="266.1" cy="1173.4" r="8.3" fill="#989898" fill-opacity="0.62"/><circle cx="270.8" cy="1173.6" r="8.3" fill="#989898" fill-opacity="0.62"/><circle cx="276.6" cy="1170.2" r="8.3" fill="#989898" fill-opacity="0.62"/><circle cx="282.2" cy="1173.0" r="8.3" fill="#989898" fill-opacity="0.62"/><circle cx="285.9" cy="1174.3" r="8.3" fill="#989898" fill-opacity="0.62"/><circle cx="290.3" cy="1172.0" r="8.3" fill="#989898" fill-opacity="0.62"/><circle cx="295.7" cy="1174.1" r="8.3" fill="#989898" fill-opacity="0.62"/><circle cx="299.6" cy="1175.2" r="8.3" fill="#989898" fill-opacity="0.62"/><circle cx="304.3" cy="1169.9" r="8.3" fill="#989898" fill-opacity="0.62"/><circle cx="308.9" cy="1170.1" r="8.3" fill="#989898" fill-opacity="0.62"/><circle cx="313.5" cy="1175.5" r="8.3" fill="#989898" fill-opacity="0.62"/><circle cx="318.8" cy="1176.6" r="8.3" fill="#989898" fill-opacity="0.62"/><circle cx="324.4" cy="1170.2" r="8.3" fill="#989898" fill-opacity="0.62"/><circle cx="329.7" cy="1177.0" r="8.3" fill="#989898" fill-opacity="0.62"/><circle cx="332.2" cy="1176.7" r="8.3" fill="#989898" fill-opacity="0.62"/><circle cx="337.8" cy="1173.4" r="8.3" fill="#989898" fill-opacity="0.62"/><circle cx="211.1" cy="1171.7" r="8.3" fill="#989898" fill-opacity="0.62"/><circle cx="214.8" cy="1176.9" r="8.3" fill="#989898" fill-opacity="0.62"/><circle cx="220.0" cy="1173.4" r="8.3" fill="#989898" fill-opacity="0.62"/><circle cx="225.4" cy="1176.0" r="8.3" fill="#989898" fill-opacity="0.62"/><circle cx="229.2" cy="1170.7" r="8.3" fill="#989898" fill-opacity="0.62"/><circle cx="234.0" cy="1173.3" r="8.3" fill="#989898" fill-opacity="0.62"/><circle cx="237.7" cy="1170.2" r="8.3" fill="#989898" fill-opacity="0.62"/><circle cx="243.3" cy="1170.7" r="8.3" fill="#989898" fill-opacity="0.62"/><circle cx="247.8" cy="1174.9" r="8.3" fill="#989898" fill-opacity="0.62"/><circle cx="252.6" cy="1171.8" r="8.3" fill="#989898" fill-opacity="0.62"/><circle cx="257.6" cy="1173.0" r="8.3" fill="#989898" fill-opacity="0.62"/><circle cx="262.8" cy="1173.8" r="8.3" fill="#989898" fill-opacity="0.62"/><circle cx="268.1" cy="1177.0" r="8.3" fill="#989898" fill-opacity="0.62"/><circle cx="272.2" cy="1171.6" r="8.3" fill="#989898" fill-opacity="0.62"/><circle cx="275.4" cy="1176.6" r="8.3" fill="#989898" fill-opacity="0.62"/><circle cx="281.8" cy="1174.5" r="8.3" fill="#989898" fill-opacity="0.62"/><circle cx="285.5" cy="1171.9" r="8.3" fill="#989898" fill-opacity="0.62"/><circle cx="291.0" cy="1174.1" r="8.3" fill="#989898" fill-opacity="0.62"/><circle cx="295.6" cy="1174.6" r="8.3" fill="#989898" fill-opacity="0.62"/><circle cx="300.7" cy="1171.2" r="8.3" fill="#989898" fill-opacity="0.62"/><circle cx="304.2" cy="1177.2" r="8.3" fill="#989898" fill-opacity="0.62"/><circle cx="310.6" cy="1176.5" r="8.3" fill="#989898" fill-opacity="0.62"/><circle cx="313.2" cy="1170.3" r="8.3" fill="#989898" fill-opacity="0.62"/><circle cx="318.5" cy="1173.0" r="8.3" fill="#989898" fill-opacity="0.62"/><circle cx="324.1" cy="1170.6" r="8.3" fill="#989898" fill-opacity="0.62"/><circle cx="328.6" cy="1170.4" r="8.3" fill="#989898" fill-opacity="0.62"/><circle cx="332.3" cy="1174.9" r="8.3" fill="#989898" fill-opacity="0.62"/><circle cx="338.1" cy="1174.6" r="8.3" fill="#989898" fill-opacity="0.62"/><circle cx="209.7" cy="1173.4" r="8.3" fill="#989898" fill-opacity="0.62"/><circle cx="214.0" cy="1172.4" r="8.3" fill="#989898" fill-opacity="0.62"/><circle cx="220.1" cy="1176.2" r="8.3" fill="#989898" fill-opacity="0.62"/><circle cx="223.2" cy="1170.7" r="8.3" fill="#989898" fill-opacity="0.62"/><circle cx="229.7" cy="1174.5" r="8.3" fill="#989898" fill-opacity="0.62"/><circle cx="234.3" cy="1171.4" r="8.3" fill="#989898" fill-opacity="0.62"/><circle cx="238.3" cy="1171.8" r="8.3" fill="#989898" fill-opacity="0.62"/><circle cx="243.9" cy="1172.6" r="8.3" fill="#989898" fill-opacity="0.62"/><circle cx="248.3" cy="1177.3" r="8.3" fill="#989898" fill-opacity="0.62"/><circle cx="252.2" cy="1174.0" r="8.3" fill="#989898" fill-opacity="0.62"/><circle cx="258.0" cy="1176.8" r="8.3" fill="#989898" fill-opacity="0.62"/><circle cx="262.0" cy="1172.6" r="8.3" fill="#989898" fill-opacity="0.62"/><circle cx="265.9" cy="1176.5" r="8.3" fill="#989898" fill-opacity="0.62"/><circle cx="270.6" cy="1170.4" r="8.3" fill="#989898" fill-opacity="0.62"/><circle cx="276.5" cy="1173.5" r="8.3" fill="#989898" fill-opacity="0.62"/><circle cx="281.6" cy="1172.1" r="8.3" fill="#989898" fill-opacity="0.62"/><circle cx="286.5" cy="1170.4" r="8.3" fill="#989898" fill-opacity="0.62"/><circle cx="289.9" cy="1174.8" r="8.3" fill="#989898" fill-opacity="0.62"/><circle cx="294.3" cy="1172.1" r="8.3" fill="#989898" fill-opacity="0.62"/><circle cx="300.6" cy="1175.1" r="8.3" fill="#989898" fill-opacity="0.62"/><circle cx="304.3" cy="1170.9" r="8.3" fill="#989898" fill-opacity="0.62"/><circle cx="309.2" cy="1175.3" r="8.3" fill="#989898" fill-opacity="0.62"/><circle cx="314.0" cy="1170.7" r="8.3" fill="#989898" fill-opacity="0.62"/><circle cx="319.5" cy="1174.1" r="8.3" fill="#989898" fill-opacity="0.62"/><circle cx="324.8" cy="1176.9" r="8.3" fill="#989898" fill-opacity="0.62"/><circle cx="329.5" cy="1173.1" r="8.3" fill="#989898" fill-opacity="0.62"/><circle cx="334.0" cy="1172.1" r="8.3" fill="#989898" fill-opacity="0.62"/><circle cx="337.6" cy="1172.8" r="8.3" fill="#989898" fill-opacity="0.62"/><circle cx="384.7" cy="1176.0" r="8.3" fill="#E04E2E" fill-opacity="0.6"/><circle cx="442.8" cy="1170.6" r="8.3" fill="#E04E2E" fill-opacity="0.6"/><circle cx="350.3" cy="1171.7" r="8.3" fill="#4DBBD5" fill-opacity="0.55"/><circle cx="347.0" cy="1176.0" r="8.3" fill="#4DBBD5" fill-opacity="0.55"/><circle cx="364.3" cy="1169.5" r="8.3" fill="#4DBBD5" fill-opacity="0.55"/><circle cx="363.2" cy="1176.0" r="8.3" fill="#989898" fill-opacity="0.62"/><circle cx="381.5" cy="1169.5" r="8.3" fill="#989898" fill-opacity="0.62"/><circle cx="383.0" cy="1172.0" r="8.3" fill="#989898" fill-opacity="0.62"/><circle cx="401.9" cy="1169.5" r="8.3" fill="#989898" fill-opacity="0.62"/><circle cx="401.9" cy="1176.0" r="8.3" fill="#989898" fill-opacity="0.62"/><circle cx="418.1" cy="1169.5" r="8.3" fill="#989898" fill-opacity="0.62"/><circle cx="418.1" cy="1176.0" r="8.3" fill="#989898" fill-opacity="0.62"/><circle cx="427.7" cy="1171.7" r="8.3" fill="#989898" fill-opacity="0.62"/><circle cx="441.7" cy="1176.0" r="8.3" fill="#989898" fill-opacity="0.62"/><circle cx="440.0" cy="1173.0" r="8.3" fill="#989898" fill-opacity="0.62"/><circle cx="460.0" cy="1172.7" r="8.3" fill="#989898" fill-opacity="0.62"/><circle cx="649.2" cy="1171.3" r="8.3" fill="#E04E2E" fill-opacity="0.6"/><circle cx="740.8" cy="1173.9" r="8.3" fill="#E04E2E" fill-opacity="0.6"/><circle cx="854.3" cy="1175.7" r="8.3" fill="#E04E2E" fill-opacity="0.6"/><circle cx="210.0" cy="1223.7" r="8.3" fill="#4DBBD5" fill-opacity="0.55"/><circle cx="211.0" cy="1219.4" r="8.3" fill="#4DBBD5" fill-opacity="0.55"/><circle cx="213.8" cy="1219.4" r="8.3" fill="#4DBBD5" fill-opacity="0.55"/><circle cx="216.4" cy="1219.6" r="8.3" fill="#4DBBD5" fill-opacity="0.55"/><circle cx="218.5" cy="1221.0" r="8.3" fill="#4DBBD5" fill-opacity="0.55"/><circle cx="222.5" cy="1220.8" r="8.3" fill="#4DBBD5" fill-opacity="0.55"/><circle cx="225.1" cy="1221.0" r="8.3" fill="#4DBBD5" fill-opacity="0.55"/><circle cx="226.1" cy="1222.6" r="8.3" fill="#4DBBD5" fill-opacity="0.55"/><circle cx="230.4" cy="1218.8" r="8.3" fill="#4DBBD5" fill-opacity="0.55"/><circle cx="230.9" cy="1220.6" r="8.3" fill="#4DBBD5" fill-opacity="0.55"/><circle cx="212.0" cy="1220.0" r="8.3" fill="#989898" fill-opacity="0.62"/><circle cx="218.0" cy="1221.0" r="8.3" fill="#989898" fill-opacity="0.62"/><circle cx="224.0" cy="1219.5" r="8.3" fill="#989898" fill-opacity="0.62"/><circle cx="210.5" cy="1217.6" r="8.3" fill="#989898" fill-opacity="0.62"/><circle cx="211.2" cy="1223.2" r="8.3" fill="#989898" fill-opacity="0.62"/><circle cx="221.8" cy="1221.8" r="8.3" fill="#989898" fill-opacity="0.62"/><circle cx="223.2" cy="1216.1" r="8.3" fill="#989898" fill-opacity="0.62"/><circle cx="228.8" cy="1219.0" r="8.3" fill="#989898" fill-opacity="0.62"/><circle cx="215.0" cy="1220.0" r="8.3" fill="#989898" fill-opacity="0.62"/><circle cx="210.5" cy="1221.8" r="8.3" fill="#4DBBD5" fill-opacity="0.55"/><circle cx="220.4" cy="1219.0" r="8.3" fill="#4DBBD5" fill-opacity="0.55"/><circle cx="223.2" cy="1224.6" r="8.3" fill="#4DBBD5" fill-opacity="0.55"/><circle cx="235.2" cy="1221.8" r="8.3" fill="#989898" fill-opacity="0.62"/><circle cx="238.7" cy="1219.0" r="8.3" fill="#4DBBD5" fill-opacity="0.55"/><circle cx="235.2" cy="1225.3" r="8.3" fill="#989898" fill-opacity="0.62"/><circle cx="258.4" cy="1219.0" r="8.3" fill="#4DBBD5" fill-opacity="0.55"/><circle cx="259.1" cy="1223.2" r="8.3" fill="#989898" fill-opacity="0.62"/><circle cx="258.0" cy="1221.0" r="8.3" fill="#989898" fill-opacity="0.62"/><circle cx="273.9" cy="1217.6" r="8.3" fill="#989898" fill-opacity="0.62"/><circle cx="273.9" cy="1221.1" r="8.3" fill="#4DBBD5" fill-opacity="0.55"/><circle cx="274.6" cy="1225.3" r="8.3" fill="#989898" fill-opacity="0.62"/><circle cx="281.0" cy="1216.1" r="8.3" fill="#989898" fill-opacity="0.62"/><circle cx="292.3" cy="1218.3" r="8.3" fill="#4DBBD5" fill-opacity="0.55"/><circle cx="300.0" cy="1220.4" r="8.3" fill="#4DBBD5" fill-opacity="0.55"/><circle cx="302.1" cy="1223.2" r="8.3" fill="#989898" fill-opacity="0.62"/><circle cx="306.0" cy="1222.0" r="8.3" fill="#4DBBD5" fill-opacity="0.55"/><circle cx="311.3" cy="1216.8" r="8.3" fill="#E04E2E" fill-opacity="0.6"/><circle cx="310.6" cy="1225.3" r="8.3" fill="#989898" fill-opacity="0.62"/><circle cx="325.4" cy="1217.6" r="8.3" fill="#989898" fill-opacity="0.62"/><circle cx="328.9" cy="1220.4" r="8.3" fill="#4DBBD5" fill-opacity="0.55"/><circle cx="331.0" cy="1223.9" r="8.3" fill="#E04E2E" fill-opacity="0.6"/><circle cx="334.5" cy="1219.0" r="8.3" fill="#989898" fill-opacity="0.62"/><circle cx="340.2" cy="1221.8" r="8.3" fill="#989898" fill-opacity="0.62"/><circle cx="341.6" cy="1223.2" r="8.3" fill="#4DBBD5" fill-opacity="0.55"/><circle cx="350.0" cy="1217.6" r="8.3" fill="#4DBBD5" fill-opacity="0.55"/><circle cx="372.0" cy="1216.0" r="8.3" fill="#4DBBD5" fill-opacity="0.55"/><circle cx="368.4" cy="1217.6" r="8.3" fill="#E04E2E" fill-opacity="0.6"/><circle cx="366.2" cy="1219.7" r="8.3" fill="#989898" fill-opacity="0.62"/><circle cx="372.6" cy="1223.2" r="8.3" fill="#4DBBD5" fill-opacity="0.55"/><circle cx="374.0" cy="1220.4" r="8.3" fill="#989898" fill-opacity="0.62"/><circle cx="209.1" cy="1268.5" r="8.3" fill="#4DBBD5" fill-opacity="0.55"/><circle cx="212.8" cy="1269.2" r="8.3" fill="#4DBBD5" fill-opacity="0.55"/><circle cx="215.2" cy="1264.5" r="8.3" fill="#4DBBD5" fill-opacity="0.55"/><circle cx="217.3" cy="1270.3" r="8.3" fill="#4DBBD5" fill-opacity="0.55"/><circle cx="218.9" cy="1264.7" r="8.3" fill="#4DBBD5" fill-opacity="0.55"/><circle cx="223.1" cy="1271.2" r="8.3" fill="#4DBBD5" fill-opacity="0.55"/><circle cx="224.3" cy="1269.1" r="8.3" fill="#4DBBD5" fill-opacity="0.55"/><circle cx="227.1" cy="1270.0" r="8.3" fill="#4DBBD5" fill-opacity="0.55"/><circle cx="237.0" cy="1270.0" r="8.3" fill="#E04E2E" fill-opacity="0.6"/><circle cx="238.0" cy="1266.0" r="8.3" fill="#E04E2E" fill-opacity="0.6"/><circle cx="210.4" cy="1266.2" r="8.3" fill="#989898" fill-opacity="0.62"/><circle cx="213.4" cy="1269.9" r="8.3" fill="#989898" fill-opacity="0.62"/><circle cx="218.3" cy="1269.9" r="8.3" fill="#989898" fill-opacity="0.62"/><circle cx="222.1" cy="1266.9" r="8.3" fill="#989898" fill-opacity="0.62"/><circle cx="227.6" cy="1269.2" r="8.3" fill="#989898" fill-opacity="0.62"/><circle cx="230.5" cy="1268.3" r="8.3" fill="#989898" fill-opacity="0.62"/><circle cx="235.2" cy="1269.5" r="8.3" fill="#989898" fill-opacity="0.62"/><circle cx="239.8" cy="1267.4" r="8.3" fill="#989898" fill-opacity="0.62"/><circle cx="243.7" cy="1269.2" r="8.3" fill="#989898" fill-opacity="0.62"/><circle cx="247.8" cy="1270.1" r="8.3" fill="#989898" fill-opacity="0.62"/><circle cx="210.8" cy="1270.7" r="8.3" fill="#989898" fill-opacity="0.62"/><circle cx="215.2" cy="1269.0" r="8.3" fill="#989898" fill-opacity="0.62"/><circle cx="218.3" cy="1269.5" r="8.3" fill="#989898" fill-opacity="0.62"/><circle cx="223.1" cy="1267.5" r="8.3" fill="#989898" fill-opacity="0.62"/><circle cx="226.3" cy="1265.5" r="8.3" fill="#989898" fill-opacity="0.62"/><circle cx="231.1" cy="1271.4" r="8.3" fill="#989898" fill-opacity="0.62"/><circle cx="234.4" cy="1265.7" r="8.3" fill="#989898" fill-opacity="0.62"/><circle cx="238.1" cy="1267.5" r="8.3" fill="#989898" fill-opacity="0.62"/><circle cx="242.4" cy="1271.3" r="8.3" fill="#989898" fill-opacity="0.62"/><circle cx="245.9" cy="1266.7" r="8.3" fill="#989898" fill-opacity="0.62"/><circle cx="209.1" cy="1269.0" r="8.3" fill="#989898" fill-opacity="0.62"/><circle cx="214.8" cy="1265.8" r="8.3" fill="#989898" fill-opacity="0.62"/><circle cx="217.2" cy="1267.7" r="8.3" fill="#989898" fill-opacity="0.62"/><circle cx="222.5" cy="1270.9" r="8.3" fill="#989898" fill-opacity="0.62"/><circle cx="225.3" cy="1265.3" r="8.3" fill="#989898" fill-opacity="0.62"/><circle cx="229.8" cy="1266.0" r="8.3" fill="#989898" fill-opacity="0.62"/><circle cx="234.0" cy="1269.5" r="8.3" fill="#989898" fill-opacity="0.62"/><circle cx="239.0" cy="1266.1" r="8.3" fill="#989898" fill-opacity="0.62"/><circle cx="242.1" cy="1266.5" r="8.3" fill="#989898" fill-opacity="0.62"/><circle cx="246.2" cy="1269.8" r="8.3" fill="#989898" fill-opacity="0.62"/><circle cx="209.5" cy="1268.3" r="8.3" fill="#989898" fill-opacity="0.62"/><circle cx="214.9" cy="1267.9" r="8.3" fill="#989898" fill-opacity="0.62"/><circle cx="217.6" cy="1270.7" r="8.3" fill="#989898" fill-opacity="0.62"/><circle cx="223.3" cy="1266.9" r="8.3" fill="#989898" fill-opacity="0.62"/><circle cx="226.6" cy="1271.2" r="8.3" fill="#989898" fill-opacity="0.62"/><circle cx="230.5" cy="1266.0" r="8.3" fill="#989898" fill-opacity="0.62"/><circle cx="233.6" cy="1271.1" r="8.3" fill="#989898" fill-opacity="0.62"/><circle cx="239.5" cy="1267.2" r="8.3" fill="#989898" fill-opacity="0.62"/><circle cx="243.0" cy="1268.1" r="8.3" fill="#989898" fill-opacity="0.62"/><circle cx="246.5" cy="1271.4" r="8.3" fill="#989898" fill-opacity="0.62"/><circle cx="263.5" cy="1264.9" r="8.3" fill="#989898" fill-opacity="0.62"/><circle cx="263.5" cy="1270.1" r="8.3" fill="#989898" fill-opacity="0.62"/><circle cx="281.2" cy="1268.0" r="8.3" fill="#E04E2E" fill-opacity="0.6"/><circle cx="281.2" cy="1268.0" r="8.3" fill="#E04E2E" fill-opacity="0.6"/><circle cx="281.5" cy="1268.3" r="8.3" fill="#E04E2E" fill-opacity="0.6"/><circle cx="209.4" cy="1312.4" r="8.3" fill="#4DBBD5" fill-opacity="0.55"/><circle cx="211.1" cy="1314.3" r="8.3" fill="#4DBBD5" fill-opacity="0.55"/><circle cx="215.3" cy="1316.9" r="8.3" fill="#4DBBD5" fill-opacity="0.55"/><circle cx="219.4" cy="1315.3" r="8.3" fill="#4DBBD5" fill-opacity="0.55"/><circle cx="221.3" cy="1311.8" r="8.3" fill="#4DBBD5" fill-opacity="0.55"/><circle cx="225.0" cy="1312.6" r="8.3" fill="#4DBBD5" fill-opacity="0.55"/><circle cx="229.6" cy="1314.6" r="8.3" fill="#4DBBD5" fill-opacity="0.55"/><circle cx="232.3" cy="1318.4" r="8.3" fill="#4DBBD5" fill-opacity="0.55"/><circle cx="240.0" cy="1312.0" r="8.3" fill="#E04E2E" fill-opacity="0.6"/><circle cx="209.4" cy="1314.7" r="8.3" fill="#989898" fill-opacity="0.62"/><circle cx="212.9" cy="1316.4" r="8.3" fill="#989898" fill-opacity="0.62"/><circle cx="216.3" cy="1316.7" r="8.3" fill="#989898" fill-opacity="0.62"/><circle cx="222.1" cy="1316.8" r="8.3" fill="#989898" fill-opacity="0.62"/><circle cx="224.0" cy="1312.9" r="8.3" fill="#989898" fill-opacity="0.62"/><circle cx="229.3" cy="1311.7" r="8.3" fill="#989898" fill-opacity="0.62"/><circle cx="232.5" cy="1314.3" r="8.3" fill="#989898" fill-opacity="0.62"/><circle cx="237.3" cy="1315.1" r="8.3" fill="#989898" fill-opacity="0.62"/><circle cx="240.9" cy="1313.1" r="8.3" fill="#989898" fill-opacity="0.62"/><circle cx="210.7" cy="1313.9" r="8.3" fill="#989898" fill-opacity="0.62"/><circle cx="214.8" cy="1311.6" r="8.3" fill="#989898" fill-opacity="0.62"/><circle cx="218.3" cy="1312.5" r="8.3" fill="#989898" fill-opacity="0.62"/><circle cx="221.4" cy="1314.7" r="8.3" fill="#989898" fill-opacity="0.62"/><circle cx="224.2" cy="1316.8" r="8.3" fill="#989898" fill-opacity="0.62"/><circle cx="228.3" cy="1313.2" r="8.3" fill="#989898" fill-opacity="0.62"/><circle cx="231.5" cy="1313.1" r="8.3" fill="#989898" fill-opacity="0.62"/><circle cx="236.2" cy="1316.0" r="8.3" fill="#989898" fill-opacity="0.62"/><circle cx="239.7" cy="1315.8" r="8.3" fill="#989898" fill-opacity="0.62"/><circle cx="209.1" cy="1313.8" r="8.3" fill="#989898" fill-opacity="0.62"/><circle cx="213.7" cy="1317.8" r="8.3" fill="#989898" fill-opacity="0.62"/><circle cx="218.3" cy="1315.6" r="8.3" fill="#989898" fill-opacity="0.62"/><circle cx="220.1" cy="1313.6" r="8.3" fill="#989898" fill-opacity="0.62"/><circle cx="225.5" cy="1312.7" r="8.3" fill="#989898" fill-opacity="0.62"/><circle cx="228.9" cy="1314.2" r="8.3" fill="#989898" fill-opacity="0.62"/><circle cx="231.3" cy="1317.9" r="8.3" fill="#989898" fill-opacity="0.62"/><circle cx="237.0" cy="1312.4" r="8.3" fill="#989898" fill-opacity="0.62"/><circle cx="240.3" cy="1313.0" r="8.3" fill="#989898" fill-opacity="0.62"/><circle cx="209.7" cy="1314.8" r="8.3" fill="#989898" fill-opacity="0.62"/><circle cx="213.3" cy="1313.4" r="8.3" fill="#989898" fill-opacity="0.62"/><circle cx="217.2" cy="1315.7" r="8.3" fill="#989898" fill-opacity="0.62"/><circle cx="220.7" cy="1312.4" r="8.3" fill="#989898" fill-opacity="0.62"/><circle cx="225.6" cy="1313.3" r="8.3" fill="#989898" fill-opacity="0.62"/><circle cx="229.8" cy="1314.9" r="8.3" fill="#989898" fill-opacity="0.62"/><circle cx="233.0" cy="1313.3" r="8.3" fill="#989898" fill-opacity="0.62"/><circle cx="237.0" cy="1311.6" r="8.3" fill="#989898" fill-opacity="0.62"/><circle cx="239.1" cy="1311.7" r="8.3" fill="#989898" fill-opacity="0.62"/><circle cx="252.6" cy="1312.7" r="8.3" fill="#989898" fill-opacity="0.62"/><circle cx="252.6" cy="1317.9" r="8.3" fill="#989898" fill-opacity="0.62"/><circle cx="264.1" cy="1310.6" r="8.3" fill="#989898" fill-opacity="0.62"/><circle cx="264.6" cy="1318.4" r="8.3" fill="#E04E2E" fill-opacity="0.6"/><circle cx="275.0" cy="1314.8" r="8.3" fill="#989898" fill-opacity="0.62"/><circle cx="290.0" cy="1309.6" r="8.3" fill="#989898" fill-opacity="0.62"/><circle cx="290.5" cy="1315.8" r="8.3" fill="#989898" fill-opacity="0.62"/><circle cx="304.6" cy="1316.3" r="8.3" fill="#989898" fill-opacity="0.62"/><circle cx="318.1" cy="1311.7" r="8.3" fill="#989898" fill-opacity="0.62"/><circle cx="318.1" cy="1316.9" r="8.3" fill="#989898" fill-opacity="0.62"/><circle cx="211.0" cy="1220.5" r="8.3" fill="#989898" fill-opacity="0.62"/><circle cx="219.0" cy="1219.5" r="8.3" fill="#989898" fill-opacity="0.62"/><circle cx="226.0" cy="1221.0" r="8.3" fill="#989898" fill-opacity="0.62"/><line x1="408.8" y1="238.9" x2="408.8" y2="40.9" stroke="#BEBEBE" stroke-width="4.5" stroke-dasharray="18 18"/><line x1="514.2" y1="238.9" x2="514.2" y2="40.9" stroke="#BEBEBE" stroke-width="4.5" stroke-dasharray="4.5 13.5"/><line x1="408.8" y1="514.9" x2="408.8" y2="316.9" stroke="#BEBEBE" stroke-width="4.5" stroke-dasharray="18 18"/><line x1="514.2" y1="514.9" x2="514.2" y2="316.9" stroke="#BEBEBE" stroke-width="4.5" stroke-dasharray="4.5 13.5"/><line x1="408.8" y1="790.9" x2="408.8" y2="592.9" stroke="#BEBEBE" stroke-width="4.5" stroke-dasharray="18 18"/><line x1="514.2" y1="790.9" x2="514.2" y2="592.9" stroke="#BEBEBE" stroke-width="4.5" stroke-dasharray="4.5 13.5"/><line x1="408.8" y1="1066.9" x2="408.8" y2="868.9" stroke="#BEBEBE" stroke-width="4.5" stroke-dasharray="18 18"/><line x1="514.2" y1="1066.9" x2="514.2" y2="868.9" stroke="#BEBEBE" stroke-width="4.5" stroke-dasharray="4.5 13.5"/><line x1="408.8" y1="1342.9" x2="408.8" y2="1145.2" stroke="#BEBEBE" stroke-width="4.5" stroke-dasharray="18 18"/><line x1="514.2" y1="1342.9" x2="514.2" y2="1145.2" stroke="#BEBEBE" stroke-width="4.5" stroke-dasharray="4.5 13.5"/><rect x="167.6" y="1340.8" width="885" height="4.5" fill="#000"/><rect x="207.45" y="1339.1" width="4.6" height="9.3" fill="#333333"/><text x="201.24" y="1377.80" style="font-family:'Liberation Sans',sans-serif;font-size:30.6px" fill="#4D4D4D">0</text><rect x="510.85" y="1339.1" width="4.6" height="9.3" fill="#333333"/><text x="504.64" y="1377.80" style="font-family:'Liberation Sans',sans-serif;font-size:30.6px" fill="#4D4D4D">2</text><rect x="814.25" y="1339.1" width="4.6" height="9.3" fill="#333333"/><text x="808.14" y="1377.80" style="font-family:'Liberation Sans',sans-serif;font-size:30.6px" fill="#4D4D4D">4</text><text x="473.83" y="1430.7" style="font-family:'Liberation Sans',sans-serif;font-size:38px" fill="#111">−log<tspan style="font-size:21.5px" dy="11.8">10</tspan><tspan dy="-11.8">(FDR)</tspan></text><text x="832.84" y="78.80" style="font-family:'Liberation Sans',sans-serif;font-size:26.35px" fill="#000" xml:space="preserve">Dopaminergic</text><text x="550.04" y="128.96" style="font-family:'Liberation Sans',sans-serif;font-size:26.35px" fill="#000" xml:space="preserve">Dopaminergic</text><text x="468.84" y="179.70" style="font-family:'Liberation Sans',sans-serif;font-size:26.35px" fill="#000" xml:space="preserve">Dopaminergic</text><text x="437.90" y="356.80" style="font-family:'Liberation Sans',sans-serif;font-size:26.35px" fill="#000" xml:space="preserve">SN neurons</text><text x="585.00" y="653.90" style="font-family:'Liberation Sans',sans-serif;font-size:26.35px" fill="#000" xml:space="preserve">SN dopaminergic neurons</text><text x="566.90" y="923.90" style="font-family:'Liberation Sans',sans-serif;font-size:26.35px" fill="#000" xml:space="preserve">SN dopaminergic neurons</text><text x="648.80" y="1155.90" style="font-family:'Liberation Sans',sans-serif;font-size:26.35px" fill="#000" xml:space="preserve">SN neurons SNc/VTA</text><text x="401.80" y="1202.70" style="font-family:'Liberation Sans',sans-serif;font-size:26.35px" fill="#000" xml:space="preserve">SN neurons neurofilament state</text><text x="844.90" y="1205.70" style="font-family:'Liberation Sans',sans-serif;font-size:26.35px" fill="#000" xml:space="preserve">SN neurons SNc</text><line x1="748.4" y1="1159.7" x2="741.2" y2="1169.2" stroke="#4D4D4D" stroke-width="1.6"/><line x1="630.4" y1="1179.1" x2="643.9" y2="1171.5" stroke="#4D4D4D" stroke-width="1.6"/><text x="1025.66" y="536.70" style="font-family:'Liberation Sans',sans-serif;font-size:33.7px" fill="#000" xml:space="preserve">neuron type</text><circle cx="1037.7" cy="585.2" r="8.2" fill="#E64B35"/><text x="1057.31" y="594.75" style="font-family:'Liberation Sans',sans-serif;font-size:29.5px" fill="#000" xml:space="preserve">dopaminergic neurons</text><circle cx="1037.7" cy="632.3" r="8.2" fill="#4DBBD5"/><text x="1057.74" y="642.70" style="font-family:'Liberation Sans',sans-serif;font-size:29.5px" fill="#000" xml:space="preserve">non−neurons</text><circle cx="1037.7" cy="683.2" r="8.2" fill="#969696"/><text x="1057.31" y="693.80" style="font-family:'Liberation Sans',sans-serif;font-size:29.5px" fill="#000" xml:space="preserve">other neurons</text><text x="1025.81" y="795.60" style="font-family:'Liberation Sans',sans-serif;font-size:33.7px" fill="#000" xml:space="preserve">significance</text><rect x="1026.1" y="836.10" width="7.00" height="3.8" fill="#6A6A6A"/><rect x="1051.1" y="836.40" width="6.70" height="3.0" fill="#808080"/><rect x="1076.0" y="836.40" width="6.80" height="3.0" fill="#808080"/><rect x="1026.1" y="875.00" width="20.00" height="4.2" fill="#666666"/><rect x="1046.1" y="875.40" width="5.40" height="3.2" fill="#808080"/><rect x="1076.0" y="875.40" width="14.70" height="3.2" fill="#808080"/><text x="1104.51" y="848.70" style="font-family:'Liberation Sans',sans-serif;font-size:29.1px" fill="#000" xml:space="preserve">FDR &lt; 0.01</text><text x="1104.51" y="888.80" style="font-family:'Liberation Sans',sans-serif;font-size:29.1px" fill="#000" xml:space="preserve">FDR &lt; 0.05</text></svg>
</body></html>
